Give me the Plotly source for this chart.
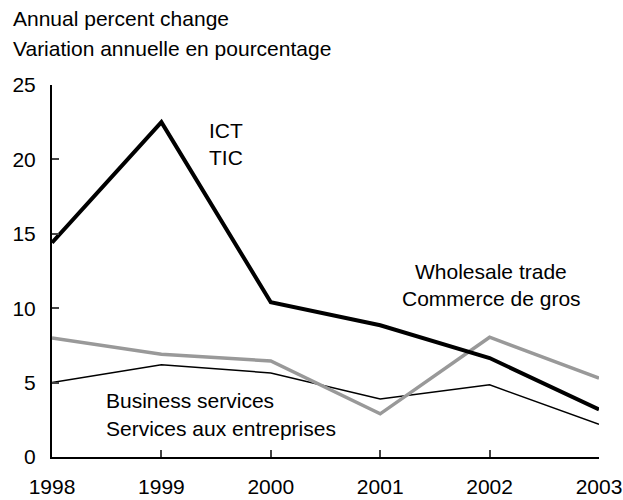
import plotly.graph_objects as go

years = [1998, 1999, 2000, 2001, 2002, 2003]
ict = [14.4, 22.5, 10.4, 8.85, 6.65, 3.2]
wholesale = [8.0, 6.9, 6.45, 2.9, 8.05, 5.3]
business = [5.0, 6.2, 5.65, 3.9, 4.85, 2.2]
y_ticks = [0, 5, 10, 15, 20, 25]

FAM = "Liberation Sans, Arial, Helvetica, sans-serif"
fnt = dict(family=FAM, size=21, color="black")

L, R, T, B = 52, 24, 85, 43
PW, PH = 623 - L - R, 500 - T - B

fig = go.Figure()
fig.add_trace(go.Scatter(x=years, y=business, mode="lines", line=dict(color="black", width=1.5)))
fig.add_trace(go.Scatter(x=years, y=wholesale, mode="lines", line=dict(color="#999999", width=3.5)))
fig.add_trace(go.Scatter(x=years, y=ict, mode="lines", line=dict(color="black", width=4)))

fig.update_layout(
    width=623, height=500,
    margin=dict(l=L, r=R, t=T, b=B),
    paper_bgcolor="white", plot_bgcolor="white",
    showlegend=False,
    font=fnt,
    xaxis=dict(range=[1998, 2003], tickvals=years, ticks="inside", ticklen=7, tickwidth=1.5,
               showline=True, linecolor="black", linewidth=2, showgrid=False, zeroline=False,
               tickfont=fnt, ticklabelstandoff=10, ticklabeloverflow="allow", automargin=False),
    yaxis=dict(range=[0, 25], tickvals=y_ticks, ticks="inside", ticklen=7, tickwidth=1.5,
               showline=True, linecolor="black", linewidth=2, showgrid=False, zeroline=False,
               tickfont=fnt, ticklabelstandoff=10, automargin=False),
)

anns = [
    ("Annual percent change", 11, 19, "left"),
    ("Variation annuelle en pourcentage", 11, 48, "left"),
    ("ICT", 226, 130, "center"),
    ("TIC", 226, 157, "center"),
    ("Wholesale trade", 491, 271, "center"),
    ("Commerce de gros", 491, 298, "center"),
    ("Business services", 104, 400, "left"),
    ("Services aux entreprises", 104, 428, "left"),
]
for text, px, py, al in anns:
    fig.add_annotation(text=text, xref="paper", yref="paper",
                       x=(px - L) / PW, y=(500 - B - py) / PH,
                       xanchor=al, yanchor="middle", showarrow=False,
                       font=dict(family=FAM, size=21, color="black"))

fig.write_html("out.html", config={"displayModeBar": False},
               post_script="document.body.style.margin='0';")
